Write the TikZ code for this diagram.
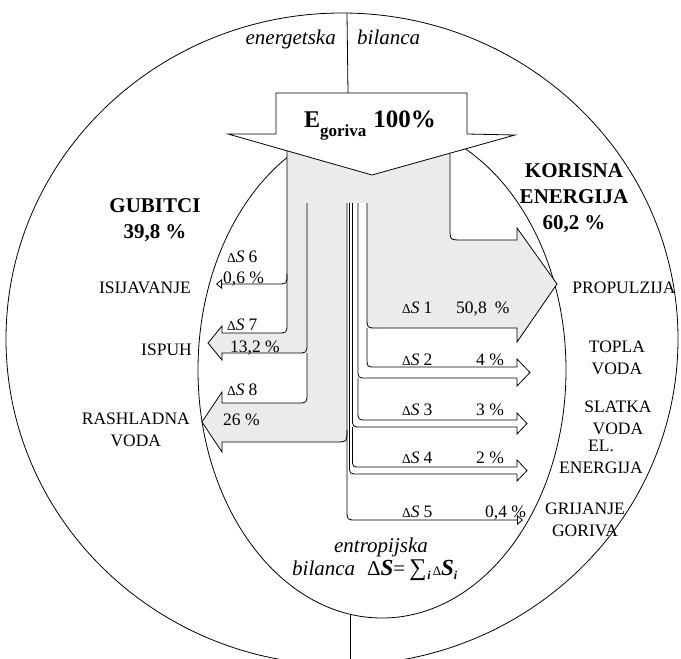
\documentclass[tikz,border=0pt]{standalone}
\usepackage{fontspec}
\setmainfont{Liberation Serif}
\usetikzlibrary{
		arrows.meta,
		positioning
	}
\tikzset{
		>=stealth
	}
\definecolor{flowgray}{gray}{0.92}
\newcommand{\dSlab}[1]{{\fontsize{13.5}{13.5}\selectfont Δ}\textit{S}\hspace{4pt}#1}

\begin{document}
\begin{tikzpicture}[x=1pt, y=-1pt,
	line/.style={line width=0.8pt, black},
	tip/.style={-{Triangle[open, length=6pt, width=10pt]}},
	lbl/.style={font=\fontsize{17.5}{22}\selectfont, align=center, inner sep=0pt},
	ttl/.style={font=\bfseries\fontsize{21}{26}\selectfont, align=center, inner sep=0pt},
	bal/.style={font=\itshape\fontsize{21}{23}\selectfont, inner sep=0pt},
	ds/.style={font=\fontsize{17.5}{20}\selectfont, inner sep=0pt, anchor=base west}]
	\useasboundingbox (0,0) rectangle (681,659);
	\clip (0,0) rectangle (681,659);
	% energetska bilanca (outer) and entropijska bilanca (inner)
	\draw[line] (342,339) ellipse [x radius=336, y radius=326];
	\draw[line] (382,370) ellipse [x radius=184, y radius=248];
	\coordinate (otop) at (347,13);
	\coordinate (atop) at (348,93);
	\coordinate (ibot) at (350,614);
	\coordinate (obot) at (350,664);
	\draw[line] (otop) -- (atop);
	\draw[line] (ibot) -- (obot);
	% gray flow
	\fill[flowgray] (287,140) -- (287,323) .. controls (287,333) .. (277,333) -- (222,333) -- (222,326) -- (208,343) -- (222,360) -- (222,353) -- (307,353) -- (307,393) .. controls (307,403) .. (297,403) -- (222,403) -- (222,392) -- (202,422) -- (222,452) -- (222,442) -- (335,442) .. controls (347,442) .. (347,430) -- (347,203) -- (367,203) -- (367,318) .. controls (367,328) .. (377,328) -- (517,328) -- (517,342) -- (557,284) -- (517,228) -- (517,240) -- (462,240) .. controls (450,240) .. (450,228) -- (450,140) -- cycle;
	% gubitci
	\draw[line] (287,140) -- (287,323) .. controls (287,333) .. (277,333) -- (222,333) -- (222,326) -- (208,343) -- (222,360) -- (222,353) -- (297,353) .. controls (307,353) .. (307,343) -- (307,203);
	\draw[line] (307,353) -- (307,393) .. controls (307,403) .. (297,403) -- (222,403) -- (222,392) -- (202,422) -- (222,452) -- (222,442) -- (335,442) .. controls (347,442) .. (347,430);
	\draw[line, tip] (287,274) .. controls (287,284) .. (277,284) -- (216,284);
	% propulzija
	\draw[line] (367,203) -- (367,318) .. controls (367,328) .. (377,328) -- (517,328) -- (517,342) -- (557,284) -- (517,228) -- (517,240) -- (462,240) .. controls (450,240) .. (450,228) -- (450,140);
	% korisna energija, small flows
	\draw[line, tip] (347,203) -- (347,510) .. controls (347,520) .. (357,520) -- (523,520);
	\draw[line] (349.5,203) -- (349.5,465) .. controls (349.5,474) .. (358.5,474) -- (517,474);
	\draw[line] (352.5,203) -- (352.5,418) .. controls (352.5,427) .. (361.5,427) -- (517,427);
	\draw[line] (352.5,427) -- (352.5,459) .. controls (352.5,467) .. (360.5,467) -- (517,467);
	\draw[line] (358,203) -- (358,369) .. controls (358,378) .. (367,378) -- (517,378);
	\draw[line] (358,378) -- (358,411) .. controls (358,420) .. (367,420) -- (517,420);
	\draw[line] (367,328) -- (367,358) .. controls (367,367) .. (376,367) -- (517,367);
	\draw[line] (517,367) -- (517,359) -- (530,372.5) -- (517,386) -- (517,378);
	\draw[line] (517,420) -- (517,413) -- (527,423.5) -- (517,434) -- (517,427);
	\draw[line] (517,467) -- (517,460) -- (527,470.5) -- (517,481) -- (517,474);
	% fuel arrow
	\draw[line, fill=white] (276,93) -- (467,93) -- (467,134) -- (515,135) -- (372,175) -- (228,134) -- (276,134) -- cycle;
	\node[inner sep=0pt, anchor=base, font=\bfseries] (egor) at (370,127) {{\fontsize{24}{24}\selectfont E}\raisebox{-9pt}{\fontsize{17}{17}\selectfont goriva}\hspace{7pt}{\fontsize{25}{25}\selectfont 100\%}};
	% balance titles
	\node[bal, anchor=base east] (enl) at (336,44) {energetska};
	\node[bal, anchor=base west] (enr) at (357,44) {bilanca};
	\node[bal, anchor=base] (ent) at (381,552) {entropijska};
	\node[bal, anchor=base west] (entf) at (292,575) {bilanca\hspace{12pt}{\upshape Δ}{\bfseries\fontsize{23}{23}\selectfont S}{\upshape =}\hspace{4pt}{\upshape\fontsize{24}{24}\selectfont ∑}\hspace{1pt}{\fontsize{12}{12}\selectfont\raisebox{-4pt}{\bfseries i}}\hspace{2pt}{\upshape\fontsize{13}{13}\selectfont Δ}{\bfseries\fontsize{23}{23}\selectfont S}{\fontsize{12}{12}\selectfont\raisebox{-4pt}{\bfseries i}}};
	% losses and useful energy
	\node[ttl, anchor=north] (gub) at (155,198) {GUBITCI\\39,8 \%};
	\node[ttl, anchor=north] (kor) at (574,163) {KORISNA\\ENERGIJA\\60,2 \%};
	\node[lbl, anchor=base east] (isi) at (191,293) {ISIJAVANJE};
	\node[lbl, anchor=base east] (isp) at (192,355) {ISPUH};
	\node[lbl, anchor=north east] (ras) at (190,413) {RASHLADNA\\VODA};
	\node[lbl, anchor=base] (prop) at (624,293) {PROPULZIJA};
	\node[lbl, anchor=north] (topla) at (617,341) {TOPLA\\VODA};
	\node[lbl, anchor=north] (slat) at (618,401) {SLATKA\\VODA};
	\node[lbl, anchor=north] (elen) at (601,440) {EL.\\ENERGIJA};
	\node[lbl, anchor=north] (grij) at (585,503) {GRIJANJE\\GORIVA};
	% entropy labels
	\node[ds] (d6) at (227,262) {\dSlab{6}};
	\node[ds] (p6) at (223,283) {0,6 \%};
	\node[ds] (d7) at (227,330) {\dSlab{7}};
	\node[ds] (p7) at (230,352) {13,2 \%};
	\node[ds] (d8) at (227,395) {\dSlab{8}};
	\node[ds] (p8) at (223,425) {26 \%};
	\node[ds] (d1) at (402,313) {\dSlab{1}};
	\node[ds] (p1) at (456,313) {50,8\hspace{8pt}\%};
	\node[ds] (d2) at (402,365) {\dSlab{2}};
	\node[ds] (p2) at (476,365) {4 \%};
	\node[ds] (d3) at (402,415) {\dSlab{3}};
	\node[ds] (p3) at (476,415) {3 \%};
	\node[ds] (d4) at (402,463) {\dSlab{4}};
	\node[ds] (p4) at (476,463) {2 \%};
	\node[ds] (d5) at (402,517) {\dSlab{5}};
	\node[ds] (p5) at (485,517) {0,4 \%};
\end{tikzpicture}
\end{document}
